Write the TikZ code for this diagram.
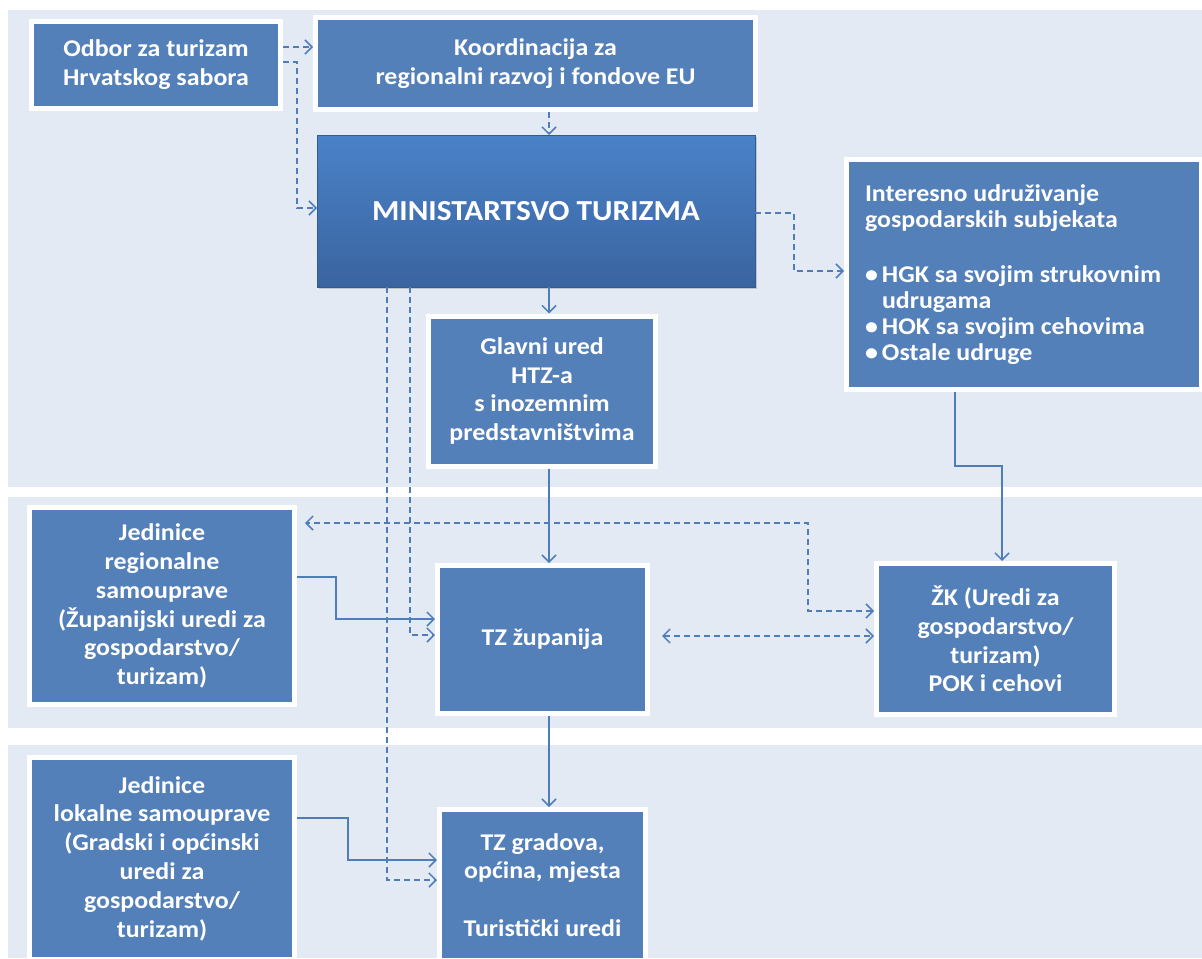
\documentclass[tikz,border=0pt]{standalone}
\usepackage{fontspec}
\setmainfont{Carlito}[FakeStretch=1.08]
\usetikzlibrary{arrows.meta,shadows}
\definecolor{band}{RGB}{227,234,244}
\definecolor{boxblue}{RGB}{84,128,185}
\definecolor{linec}{RGB}{79,125,186}
\definecolor{mintop}{RGB}{74,130,200}
\definecolor{minbot}{RGB}{58,100,160}
\tikzset{
  bx/.style={draw=white, line width=2.5pt, fill=boxblue, inner sep=0pt, outer sep=1.25pt,
    align=center, text=white, font=\fontsize{12}{14.4}\selectfont\bfseries,
    drop shadow={shadow xshift=0.8pt, shadow yshift=-0.8pt, opacity=0.3}},
  conn/.style={draw=linec, line width=0.75pt, -{Straight Barb[length=3.5pt,width=7pt]}},
  dconn/.style={conn, dash pattern=on 3pt off 2pt},
  bandbg/.style={fill=band, draw=none},
}
\newcommand{\blt}{\makebox[8.5pt][l]{•}}
\begin{document}
\begin{tikzpicture}[x=0.5pt, y=-0.5pt]
\useasboundingbox (0,0) rectangle (1202,958);
\clip (0,0) rectangle (1202,958);
% background bands
\fill[bandbg] (8,10) rectangle (1202,487);
\fill[bandbg] (8,497) rectangle (1202,728);
\fill[bandbg] (8,745) rectangle (1202,958);

% boxes
\node[bx, minimum width=124.5pt, minimum height=43.5pt] (odbor) at (156,65)
  {Odbor za turizam\\Hrvatskog sabora};
\node[bx, minimum width=220pt, minimum height=46pt] (koord) at (535.5,63.5)
  {Koordinacija za\\regionalni razvoj i fondove EU};
\node[inner sep=0pt, outer sep=0pt, minimum width=219pt, minimum height=76pt,
  top color=mintop, bottom color=minbot, draw=minbot!90!black, line width=0.4pt,
  text=white, font=\fontsize{14.5}{17}\selectfont\bfseries,
  drop shadow={shadow xshift=1pt, shadow yshift=-1pt, opacity=0.35}] (min) at (536,211)
  {MINISTARTSVO TURIZMA};
\node[bx, align=flush left, text width=159pt, inner xsep=9.25pt, minimum width=177.5pt,
  minimum height=115pt, font=\fontsize{12}{13}\selectfont\bfseries] (inter) at (1024,274.5)
  {Interesno udruživanje\\gospodarskih subjekata\\[14.5pt]
   \blt HGK sa svojim strukovnim\\
   \hspace*{8.5pt}udrugama\\
   \blt HOK sa svojim cehovima\\
   \blt Ostale udruge};
\node[bx, minimum width=113.5pt, minimum height=75pt] (glavni) at (542,391)
  {Glavni ured\\HTZ-a\\s inozemnim\\predstavništvima};
\node[bx, minimum width=132.5pt, minimum height=98.5pt] (jreg) at (162,606)
  {Jedinice\\regionalne\\samouprave\\(Županijski uredi za\\gospodarstvo/\\turizam)};
\node[bx, minimum width=105pt, minimum height=74pt] (tzz) at (542.5,639.5)
  {TZ županija};
\node[bx, minimum width=119pt, minimum height=75.5pt] (zk) at (995.5,639)
  {ŽK (Uredi za\\gospodarstvo/\\turizam)\\POK i cehovi};
\node[bx, minimum width=132.5pt, minimum height=101pt] (jlok) at (162,858.5)
  {Jedinice\\lokalne samouprave\\(Gradski i općinski\\uredi za\\gospodarstvo/\\turizam)};
\node[bx, minimum width=103pt, minimum height=75.5pt] (tzg) at (542.5,885)
  {TZ gradova,\\općina, mjesta\\[14.4pt]Turistički uredi};

% connectors
\draw[dconn] (odbor.east |- 0,47) -- (koord.west |- 0,47);
\draw[dconn] (odbor.east |- 0,62) -- (297,62) -- (297,208) -- (min.west |- 0,208);
\draw[dconn] (koord.south -| 549,0) -- (min.north -| 549,0);
\draw[conn] (min.south -| 549,0) -- (glavni.north -| 549,0);
\draw[dconn] (min.east |- 0,213) -- (794,213) -- (794,271) -- (inter.west |- 0,271);
\draw[conn] (glavni.south -| 549,0) -- (tzz.north -| 549,0);
\draw[conn] (inter.south -| 955,0) -- (955,466) -- (1002,466) -- (zk.north -| 1002,0);
\draw[dconn, {Straight Barb[length=3.5pt,width=7pt]}-{Straight Barb[length=3.5pt,width=7pt]}, shorten >=4pt]
  (zk.west |- 0,611) -- (808,611) -- (808,523) -- (jreg.east |- 0,523);
\draw[dconn, {Straight Barb[length=3.5pt,width=7pt]}-{Straight Barb[length=3.5pt,width=7pt]}, shorten <=6pt]
  (tzz.east |- 0,636) -- (zk.west |- 0,636);
\draw[conn] (jreg.east |- 0,577) -- (336,577) -- (336,619) -- (tzz.west |- 0,619);
\draw[dconn] (min.south -| 410,0) -- (410,635) -- (tzz.west |- 0,635);
\draw[dconn] (min.south -| 387,0) -- (387,880) -- (tzg.west |- 0,880);
\draw[conn] (tzz.south -| 549,0) -- (tzg.north -| 549,0);
\draw[conn] (jlok.east |- 0,818) -- (348,818) -- (348,860) -- (tzg.west |- 0,860);
\end{tikzpicture}
\end{document}
